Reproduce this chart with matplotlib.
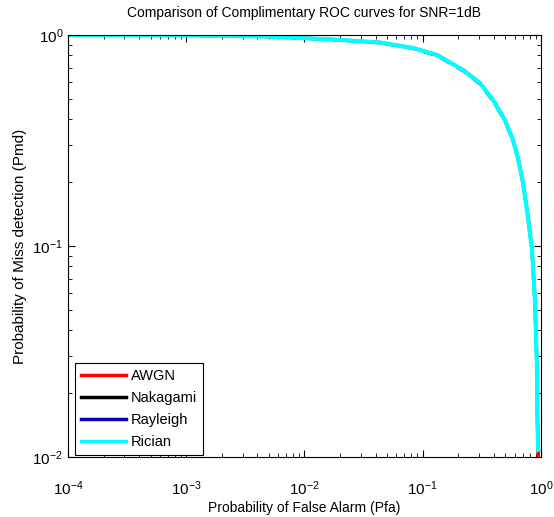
import numpy as np
import matplotlib.pyplot as plt

plt.rcParams['font.family'] = ['Liberation Sans', 'DejaVu Sans']
plt.rcParams['mathtext.default'] = 'regular'
plt.rcParams['axes.unicode_minus'] = False

# values (Pfa vs Pmd, SNR = 1 dB)
pfa = [1e-4, 1e-3, 1.31e-3, 4.82e-3, 0.0174, 0.0435, 0.0827, 0.132, 0.219, 0.305,
       0.393, 0.496, 0.580, 0.639, 0.705, 0.777, 0.840, 0.889, 0.925, 0.933, 0.944, 0.95]
pmd_awgn = [0.9995, 0.996, 0.9945, 0.984, 0.952, 0.921, 0.868, 0.804, 0.683, 0.592,
            0.492, 0.395, 0.318, 0.261, 0.199, 0.137, 0.0958, 0.0555, 0.0267, 0.0155, 0.0108, 0.0101]
pmd_nakagami = [0.9995, 0.996, 0.994, 0.982, 0.948, 0.916, 0.862, 0.797, 0.676, 0.585,
                0.486, 0.390, 0.314, 0.258, 0.197, 0.135, 0.0945, 0.0550, 0.0265, 0.0154, 0.0109, 0.0106]
pmd_rayleigh = [0.9995, 0.996, 0.9935, 0.981, 0.946, 0.914, 0.859, 0.794, 0.673, 0.582,
                0.483, 0.388, 0.312, 0.256, 0.196, 0.134, 0.094, 0.0548, 0.0264, 0.0154, 0.0109, 0.0106]
pmd_rician = [0.9995, 0.996, 0.9945, 0.984, 0.952, 0.921, 0.868, 0.804, 0.683, 0.592,
              0.492, 0.395, 0.318, 0.261, 0.199, 0.137, 0.0958, 0.0555, 0.0267, 0.0155, 0.011, 0.0108]

fig = plt.figure(figsize=(5.54, 5.17), dpi=100)
ax = fig.add_axes([0.1227, 0.1161, 0.8538, 0.8162])

ax.loglog(pfa, pmd_awgn, color='red', lw=2.5, label='AWGN')
ax.loglog(pfa, pmd_nakagami, color='black', lw=1.2, label='Nakagami')
ax.loglog(pfa, pmd_rayleigh, color='#0000b0', lw=1.5, ls=(0, (5, 4)), label='Rayleigh')
ax.loglog(pfa, pmd_rician, color='cyan', lw=3, label='Rician')

ax.set_xlim(1e-4, 1)
ax.set_ylim(1e-2, 1)
ax.tick_params(which='both', direction='in', top=True, right=True, labelsize=11)
ax.tick_params(which='major', length=5)
ax.tick_params(which='minor', length=3)
ax.tick_params(axis='x', pad=16)

ax.set_title('Comparison of Complimentary ROC curves for SNR=1dB', fontsize=10, pad=13)
ax.set_xlabel('Probability of False Alarm (Pfa)', fontsize=10, labelpad=2)
ax.set_ylabel('Probability of Miss detection (Pmd)', fontsize=11)

leg = ax.legend(loc='lower left', bbox_to_anchor=(0.015, 0.005), borderaxespad=0,
                fontsize=10.5, fancybox=False, framealpha=1, edgecolor='black',
                handlelength=3.1, labelspacing=0.55, handletextpad=0.3)
leg.get_frame().set_linewidth(0.8)
for h in leg.get_lines():
    h.set_linestyle('-')
    h.set_linewidth(2.5)

fig.savefig('out.png', dpi=100)
